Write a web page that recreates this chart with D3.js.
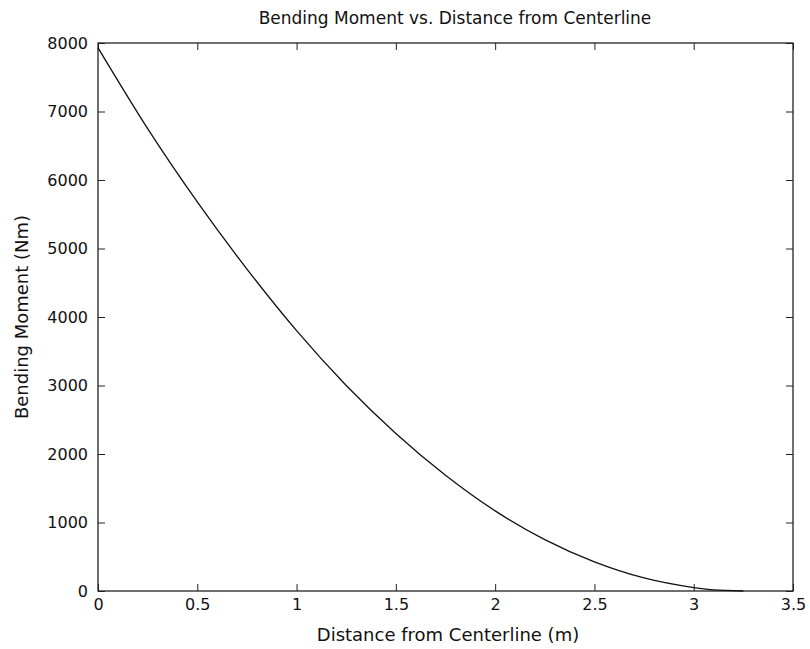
<!DOCTYPE html>
<html lang="en">
<head>
<meta charset="UTF-8">
<title>Bending Moment vs. Distance from Centerline</title>
<script src="https://cdn.jsdelivr.net/npm/d3@7"></script>
<style>
  body { margin: 0; background: #fff; }
  text { font-family: "DejaVu Sans", Arial, sans-serif; fill: #111; }
</style>
</head>
<body>
<svg id="chart" width="810" height="649"></svg>
<script>
// values
var distance = [0, 0.25, 0.5, 0.75, 1, 1.25, 1.5, 1.75, 2, 2.25, 2.5, 2.75, 3, 3.1, 3.25];
var moment   = [7930, 6750, 5680, 4700, 3800, 3000, 2300, 1690, 1170, 750, 425, 190, 50, 15, 0];
var xTicks = [0, 0.5, 1, 1.5, 2, 2.5, 3, 3.5];
var yTicks = [0, 1000, 2000, 3000, 4000, 5000, 6000, 7000, 8000];

var svg = d3.select("#chart"),
    plotLeft = 98, plotRight = 793, plotTop = 43, plotBottom = 591,
    tick = 7;

var x = d3.scaleLinear().domain([0, 3.5]).range([plotLeft, plotRight]);
var y = d3.scaleLinear().domain([0, 8000]).range([plotBottom, plotTop]);

var data = distance.map(function(d, i) { return {x: d, y: moment[i]}; });

// axes box with inward ticks on all four sides
svg.append("g")
    .attr("transform", "translate(0," + plotBottom + ")")
    .call(d3.axisBottom(x).tickValues(xTicks).tickSizeInner(-tick).tickSizeOuter(0).tickPadding(8).tickFormat(d3.format("")))
    .call(function(g) { g.select(".domain").remove(); });
svg.append("g")
    .attr("transform", "translate(0," + plotTop + ")")
    .call(d3.axisTop(x).tickValues(xTicks).tickSizeInner(-tick).tickSizeOuter(0).tickFormat(""))
    .call(function(g) { g.select(".domain").remove(); });
svg.append("g")
    .attr("transform", "translate(" + plotLeft + ",0)")
    .call(d3.axisLeft(y).tickValues(yTicks).tickSizeInner(-tick).tickSizeOuter(0).tickPadding(10).tickFormat(d3.format("d")))
    .call(function(g) { g.select(".domain").remove(); });
svg.append("g")
    .attr("transform", "translate(" + plotRight + ",0)")
    .call(d3.axisRight(y).tickValues(yTicks).tickSizeInner(-tick).tickSizeOuter(0).tickFormat(""))
    .call(function(g) { g.select(".domain").remove(); });

svg.selectAll(".tick line").attr("stroke", "#222");
svg.selectAll(".tick text").style("font-size", "16px").style("font-family", "DejaVu Sans, Arial, sans-serif").attr("fill", "#111");

svg.append("rect")
    .attr("x", plotLeft).attr("y", plotTop)
    .attr("width", plotRight - plotLeft).attr("height", plotBottom - plotTop)
    .attr("fill", "none").attr("stroke", "#222").attr("stroke-width", 1.3);

svg.append("path")
    .datum(data)
    .attr("fill", "none")
    .attr("stroke", "#111")
    .attr("stroke-width", 1.3)
    .attr("d", d3.line().x(function(d) { return x(d.x); }).y(function(d) { return y(d.y); }).curve(d3.curveMonotoneX));

svg.append("text")
    .attr("x", 455).attr("y", 24)
    .attr("text-anchor", "middle").style("font-size", "17px")
    .text("Bending Moment vs. Distance from Centerline");

svg.append("text")
    .attr("x", 448).attr("y", 641)
    .attr("text-anchor", "middle").style("font-size", "18px")
    .text("Distance from Centerline (m)");

svg.append("text")
    .attr("transform", "translate(28," + (plotTop + plotBottom) / 2 + ") rotate(-90)")
    .attr("text-anchor", "middle").style("font-size", "18px")
    .text("Bending Moment (Nm)");
</script>
</body>
</html>
